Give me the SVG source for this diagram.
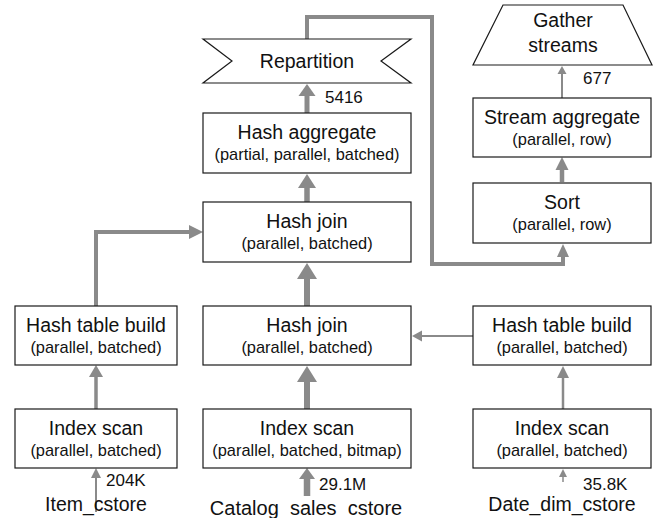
<svg xmlns="http://www.w3.org/2000/svg" width="654" height="518" viewBox="0 0 654 518">
<style>
.box{fill:#fff;stroke:#1a1a1a;stroke-width:1.2}
.t{font-family:"Liberation Sans",Arial,sans-serif;font-size:19.5px;fill:#111;text-anchor:middle}
.s{font-family:"Liberation Sans",Arial,sans-serif;font-size:16.4px;fill:#111;text-anchor:middle}
.n{font-family:"Liberation Sans",Arial,sans-serif;font-size:17px;fill:#111}
.lbl{font-family:"Liberation Sans",Arial,sans-serif;font-size:19.5px;fill:#111;text-anchor:middle}
.c{fill:none;stroke:#8a8a8a}
.h{fill:#8a8a8a;stroke:none}
</style>
<rect width="654" height="518" fill="#fff"/>
<g id="connectors">
<path class="c" stroke-width="2" d="M96 512V477"/><polygon class="h" points="96,468 91,478 101,478"/>
<path class="c" stroke-width="3.5" d="M96 409V376"/><polygon class="h" points="96,365 89,377 103,377"/>
<path class="c" stroke-width="4" d="M96 306V232H190"/><polygon class="h" points="203,232 189,225 189,239"/>
<path class="c" stroke-width="6.5" d="M307 496V478"/><polygon class="h" points="307,468 299,479 315,479"/>
<path class="c" stroke-width="6" d="M307 409V380"/><polygon class="h" points="307,366 297,382 317,382"/>
<path class="c" stroke-width="6" d="M307 306V278"/><polygon class="h" points="307,263 297,279 317,279"/>
<path class="c" stroke-width="5.5" d="M307 202V187"/><polygon class="h" points="307,174 298,188 316,188"/>
<path class="c" stroke-width="5" d="M307 113V95"/><polygon class="h" points="307,84 298.5,96 315.5,96"/>
<path class="c" stroke-width="4" d="M307 39V17H432V264H563V256"/><polygon class="h" points="563,244 557,257 569,257"/>
<path class="c" stroke-width="4.5" d="M562 182V169"/><polygon class="h" points="562,157 555.5,170 568.5,170"/>
<path class="c" stroke-width="2" d="M562 98V73"/><polygon class="h" points="562,66 557.5,74 566.5,74"/>
<path class="c" stroke-width="2.5" d="M563 409V377"/><polygon class="h" points="563,366 557,378 569,378"/>
<path class="c" stroke-width="2" d="M473 336H421"/><polygon class="h" points="412,336 422,330.5 422,341.5"/>
<path class="c" stroke-width="1.5" d="M563 482V476"/><polygon class="h" points="563,469 559,477 567,477"/>
</g>
<g id="gather">
<polygon class="box" points="503,5 623,5 652,65 473,65"/>
<text class="t" x="563" y="27">Gather</text>
<text class="t" x="563" y="52">streams</text>
</g>
<g id="repartition">
<polygon class="box" points="203,39 411,39 381,61 411,83 203,83 232,61"/>
<text class="t" x="307" y="68">Repartition</text>
</g>
<g id="stream-aggregate">
<rect class="box" x="473" y="98" width="178" height="59"/>
<text class="t" x="562" y="124">Stream aggregate</text>
<text class="s" x="562" y="144.5">(parallel, row)</text>
</g>
<g id="sort">
<rect class="box" x="473" y="183" width="178" height="60"/>
<text class="t" x="562" y="209">Sort</text>
<text class="s" x="562" y="229.5">(parallel, row)</text>
</g>
<g id="hash-aggregate">
<rect class="box" x="203" y="113" width="208" height="60"/>
<text class="t" x="307" y="139">Hash aggregate</text>
<text class="s" x="307" y="160">(partial, parallel, batched)</text>
</g>
<g id="hash-join-top">
<rect class="box" x="203" y="202" width="208" height="60"/>
<text class="t" x="307" y="228">Hash join</text>
<text class="s" x="307" y="248.5">(parallel, batched)</text>
</g>
<g id="hash-table-build-left">
<rect class="box" x="15" y="306" width="162" height="59"/>
<text class="t" x="96" y="332">Hash table build</text>
<text class="s" x="96" y="352.5">(parallel, batched)</text>
</g>
<g id="hash-join-mid">
<rect class="box" x="203" y="306" width="208" height="59"/>
<text class="t" x="307" y="332">Hash join</text>
<text class="s" x="307" y="352.5">(parallel, batched)</text>
</g>
<g id="hash-table-build-right">
<rect class="box" x="473" y="306" width="178" height="59"/>
<text class="t" x="562" y="332">Hash table build</text>
<text class="s" x="562" y="352.5">(parallel, batched)</text>
</g>
<g id="index-scan-left">
<rect class="box" x="15" y="409" width="162" height="59"/>
<text class="t" x="96" y="435">Index scan</text>
<text class="s" x="96" y="455.5">(parallel, batched)</text>
</g>
<g id="index-scan-mid">
<rect class="box" x="203" y="409" width="208" height="59"/>
<text class="t" x="307" y="435">Index scan</text>
<text class="s" x="307" y="455.5">(parallel, batched, bitmap)</text>
</g>
<g id="index-scan-right">
<rect class="box" x="473" y="409" width="178" height="59"/>
<text class="t" x="562" y="435">Index scan</text>
<text class="s" x="562" y="455.5">(parallel, batched)</text>
</g>
<g id="labels">
<text class="n" x="325" y="103">5416</text>
<text class="n" x="583" y="84">677</text>
<text class="n" x="106" y="486">204K</text>
<text class="n" x="319" y="490">29.1M</text>
<text class="n" x="583" y="490">35.8K</text>
<text class="lbl" x="96" y="511">Item_cstore</text>
<text class="lbl" x="306" y="515" style="font-size:20px">Catalog_sales_cstore</text>
<text class="lbl" x="562" y="511">Date_dim_cstore</text>
</g>
</svg>
